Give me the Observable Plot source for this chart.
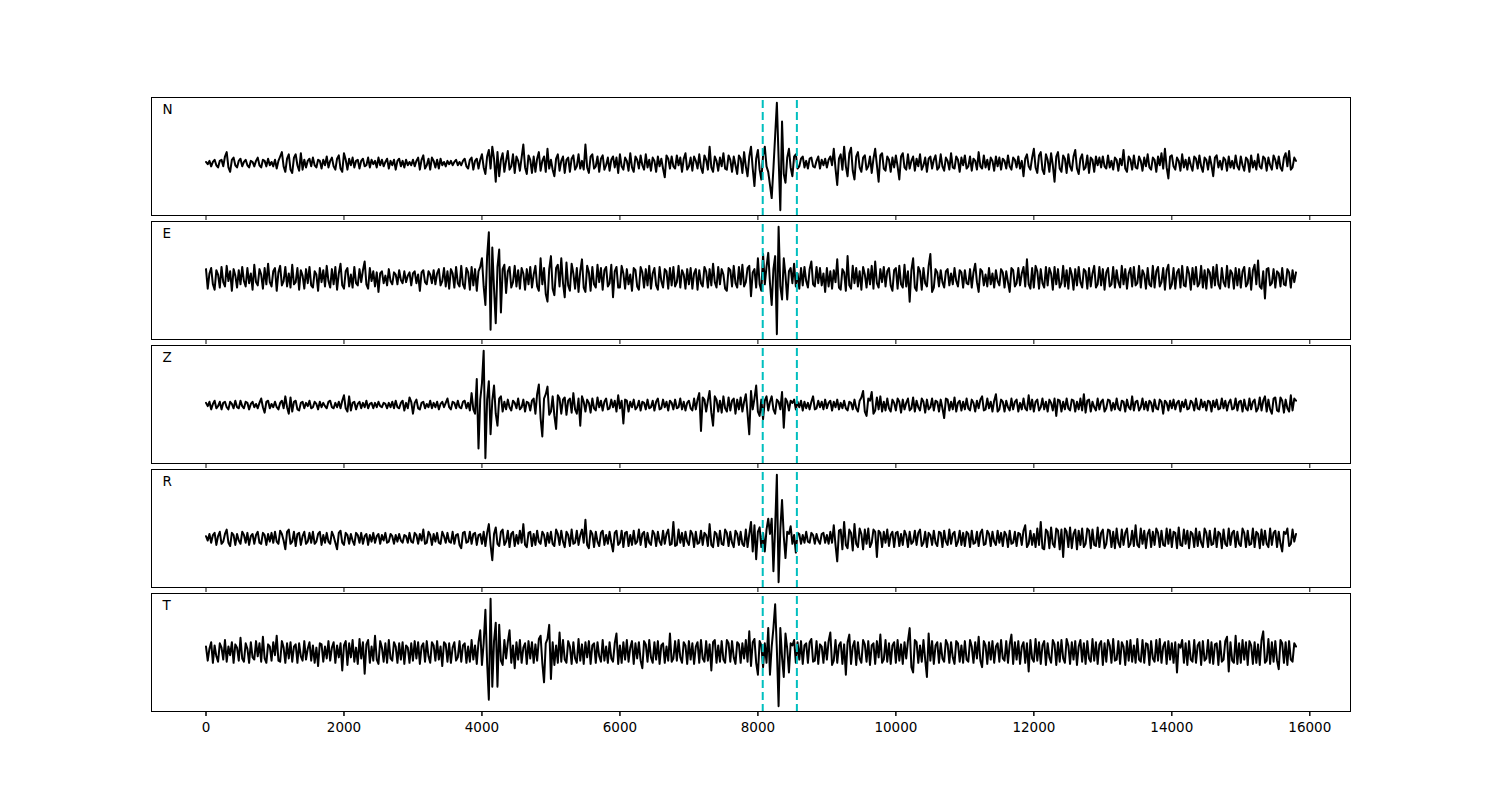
<!DOCTYPE html>
<html><head><meta charset="utf-8">
<script src="https://cdn.jsdelivr.net/npm/d3@7"></script>
<script src="https://cdn.jsdelivr.net/npm/@observablehq/plot@0.6"></script>
<style>html,body{margin:0;padding:0;background:#fff}#chart svg{display:block}</style>
</head><body><div id="chart"></div>
<script>
// Components (panel labels), sample spacing, pick times, x tick values
const components = ["N", "E", "Z", "R", "T"];
const sampleStep = 25;
const picks = [8070, 8565];
const xTicks = [0, 2000, 4000, 6000, 8000, 10000, 12000, 14000, 16000];

// Traces: amplitude, one value every 25 samples (40 values per 1000)
const N = [
1,-1,2,-3,1,3,-2,-4,2,3, -3,6,10,-4,-8,3,5,-2,-4,2, 4,-3,1,3,-2,-4,2,1,-3,2, 5,-2,-4,3,2,-3,4,-2,1,-3,
3,-5,2,6,10,-3,-8,4,8,-6, -9,5,8,-2,-7,9,-6,3,-4,2, 4,-3,5,-2,-4,3,2,-5,3,-2, 6,-4,2,5,-3,-6,4,7,-5,-8,
9,3,-6,4,-2,5,-4,2,3,-5, 2,4,-3,-2,5,-4,3,-1,2,-4, 5,-2,3,-3,1,4,-5,2,-2,3, -6,2,4,-3,2,-4,3,-2,1,-2,
3,-3,2,5,-6,3,7,-5,-2,4, -6,5,2,-4,3,-5,4,-2,1,-3, 2,-1,2,-2,1,3,-2,1,-2,2, 4,-3,-5,3,5,-6,2,4,-5,3,
8,-4,-10,6,12,-5,15,4,-17,10, -12,3,9,-8,2,11,-6,-3,8,-9, 6,2,-7,5,17,-4,-10,7,3,-9, 6,-8,4,10,-7,2,6,-8,13,-5,
3,-6,-12,4,8,-7,2,6,-9,3, 5,-8,4,7,-6,-3,8,-5,2,-6, 17,-4,-9,6,8,-5,-3,6,-8,4, 7,-6,-2,5,-7,3,6,-4,5,-9,
8,-3,-6,5,2,-7,9,-4,-8,6, 3,-5,7,-2,-6,8,-4,3,-7,5, 2,-8,6,-3,4,-5,-13,7,4,-5, 6,-3,-5,7,-2,5,-8,4,9,-6,
-3,5,-7,6,2,-5,8,-4,-9,7, 3,-6,15,-4,-8,6,2,-7,5,-3, 9,-5,-6,7,3,-8,6,-2,-10,7, 4,-9,10,-3,-12,6,15,-5,-21,4,
12,-6,-15,7,15,-3,-8,-20,-32,-5, 25,55,5,-43,38,-10,-18,5,13,-4, -12,6,8,-5,-3,4,6,-4,2,-5, 4,5,-3,-4,2,6,-5,3,-2,4,
-4,3,6,-2,13,-5,-20,4,8,-6, 15,-3,-12,9,14,-7,-15,6,10,-4, -8,5,7,-6,-3,6,-9,4,13,-2, -17,7,9,-5,-7,6,3,-8,5,-4,
7,-3,-15,6,9,-4,-6,8,-5,2, 6,-7,4,-3,8,-6,-2,5,-8,4, 6,-5,3,7,-6,-4,8,-3,-7,5, 2,-6,9,-4,-5,6,3,-8,5,-2,
7,-5,-3,6,-7,4,2,-6,10,-3, -5,7,-4,3,-6,5,2,-7,6,-3, 5,-6,4,2,-5,7,-3,-6,5,3, -4,6,-5,2,-12,4,8,-3,-6,5,
13,-4,-9,7,10,-6,-10,8,3,-8, 9,-2,-17,6,10,-5,-8,7,4,-9, 8,-3,-7,6,12,-5,-10,4,8,-6, -4,7,-9,5,3,-8,6,-2,5,-4,
6,-3,-5,7,-4,2,-6,5,3,-7, 4,-2,12,-5,-8,6,3,-6,7,-4, -5,6,2,-7,5,-3,8,-4,-6,5, 3,-8,6,-2,9,-5,13,-4,-14,6,
7,-3,-6,5,2,-7,8,-4,3,-6, 5,-2,-7,6,4,-5,7,-3,-8,5, 3,-6,6,-2,-12,5,7,-4,2,-6, 5,3,-7,6,-4,2,-5,7,-3,-6,
6,-2,-7,5,3,-8,7,-4,2,-6, 8,-3,-5,6,4,-7,5,-2,-6,7, 3,-5,6,-4,-7,5,9,-3,11,-6, -4,5,2
];
const E = [
8,-10,4,9,-6,-11,7,3,-9,10, -4,-8,11,-3,6,-12,8,2,-9,7, -6,10,-3,-8,9,-5,4,-11,12,-4, -7,8,3,-10,9,-6,13,-4,-8,6,
9,-12,5,11,-7,-3,10,-8,4,-9, 12,-6,-4,9,-11,7,2,-10,8,-5, 10,-7,-9,6,3,-12,9,-4,7,-8, 11,-3,-9,8,-6,10,-11,4,13,-7,
-10,6,9,-8,3,-9,10,-5,-7,8, -4,7,15,-6,-10,9,-3,6,-8,5, -13,4,6,-5,2,-7,8,-3,-6,5, 3,-6,7,-2,-5,6,-4,2,5,-7,
4,6,-5,3,-12,5,7,-4,-6,6, 3,-5,7,-6,4,8,-7,-3,9,-8, 6,-10,8,4,-9,10,-5,-8,11,-6, -10,9,5,-11,10,-7,8,-12,6,10,
18,-8,-25,20,42,-48,28,-10,-42,10, 26,-32,8,12,-14,6,10,-9,-4,11, -8,7,-10,9,4,-11,8,-6,10,-9, 3,11,-8,-12,18,-6,9,-15,-22,8,
20,-10,-16,9,12,-8,18,-5,-18,14, -7,-12,13,4,-10,9,-13,6,17,-9, -13,11,5,-12,10,-6,-9,12,-4,9, -11,7,10,-8,-5,12,-18,6,10,-9,
-9,11,4,-10,8,-6,3,-12,9,7, -8,-11,10,5,-9,8,-7,11,-10,4, 9,-7,-11,10,-3,-9,8,6,-10,9, -7,10,-8,-4,11,-9,7,3,-10,8,
-6,9,-10,4,8,-11,7,-5,-8,10, 6,-9,8,-7,13,-4,-9,10,-6,8, 3,-10,-12,9,7,-8,11,-5,-9,10, -6,12,-8,-4,9,11,-17,5,8,-9,
18,-6,-12,22,-6,10,23,-5,-25,8, 20,-52,47,-8,-20,18,2,-20,6,9, -5,13,-8,4,-10,9,-7,10,-3,-9, 8,15,-6,-8,10,-5,9,-7,4,-13,
9,-8,6,-10,7,-4,17,-9,-11,8, 5,-12,20,-7,-10,11,-5,9,-8,6, -11,10,3,-9,8,-6,11,-10,15,-5, -9,8,-4,10,-8,6,9,-7,-12,7,
9,-10,11,-6,-9,12,-8,6,-22,7, 18,-9,-12,10,6,-11,9,-5,-8,11, 22,-13,-9,8,5,-8,7,-4,-9,6, 8,-7,4,-6,9,-3,-8,7,5,-9,
7,-5,-6,8,-9,5,13,-4,-13,8, 6,-7,3,-8,9,-6,4,-9,7,-3, -7,8,5,-9,6,-4,-13,9,7,-8, -5,9,-7,4,10,-8,17,-6,-10,9,
-9,11,6,-10,8,-5,-9,10,-7,9, 4,-11,10,-6,8,-9,-5,11,-8,7, -10,9,3,-11,8,-7,10,-4,-9,8, 6,-10,9,-8,4,11,-9,-6,10,-7,
8,-11,5,9,-8,-6,10,-9,7,-4, -9,11,-6,8,-10,4,9,-8,10,-7, -5,11,-9,7,3,-10,9,-6,-8,11, -9,6,10,-8,-4,9,-11,7,12,-10,
-6,9,-10,5,8,-9,11,-7,-8,10, 4,-11,9,-6,10,-8,-5,11,-9,7, -10,8,5,-9,10,-7,12,-6,-10,9, -4,-8,11,-9,7,4,-10,9,-7,8,
-9,6,10,-8,-5,9,-11,7,12,-6, 16,-8,-10,6,-19,8,9,-7,-5,8, -9,6,4,-8,9,-6,-7,8,5,-9, 7,-4,5
];
const Z = [
2,-1,3,-4,1,4,-3,-1,3,-4, 2,3,-2,-4,3,1,-3,4,-2,-3, 4,-1,-3,3,2,-4,1,3,-2,1, -3,2,6,-2,-7,3,4,-3,1,-2,
3,-2,-4,2,4,-3,8,-2,-8,7, -6,3,4,-4,-5,2,3,-3,2,-1, 4,-3,-2,3,1,-4,3,-2,2,-1, -3,3,4,-2,-3,2,-2,3,-3,4,
9,-3,-6,8,-5,2,3,-4,1,3, -3,2,-2,4,-3,1,2,-3,2,-2, 3,-1,-2,2,1,-3,2,-2,3,-3, 4,-2,-3,2,4,-5,2,-3,7,3,
-8,2,5,-3,-4,2,3,-3,1,-2, 4,-3,2,-2,3,-4,1,3,-2,2, 6,-2,-4,3,2,-3,4,-2,-3,3, 4,-3,2,-5,11,-4,-8,24,-40,5,
20,50,-49,5,22,-27,4,18,-8,-19, 6,8,-6,3,-4,5,-2,-5,4,2, -3,6,-4,-2,5,-6,3,2,-5,4, 6,-8,10,19,-12,-29,6,10,17,-9,
-6,8,-10,-22,9,6,-8,5,7,-9, 4,6,-7,11,-4,-8,6,-19,8,3, -6,5,2,-7,6,-3,-5,7,-2,4, -5,3,6,-4,-3,5,-2,4,-6,9,
-3,4,-17,5,4,-6,3,-2,5,-4, -2,4,-5,3,2,-4,5,-3,-2,4, -5,3,6,-4,-3,5,-2,3,-5,4, 2,-4,5,-3,-2,6,-4,3,-5,2,
4,-3,-5,6,-4,5,11,-24,7,5, -6,4,13,-7,-19,8,5,-6,4,-7, 8,-3,-6,7,-5,4,6,-8,5,-4, 7,-6,3,10,-8,-27,13,-4,6,18,
-6,-10,5,-13,4,8,-5,3,8,-4, -8,5,3,-4,12,-21,6,3,-5,4, 2,5,-4,3,-2,4,-5,3,-3,2, -4,3,8,-4,-3,4,-2,3,-4,5,
-3,2,4,-5,3,-2,5,-4,2,-3, 4,-3,-5,3,2,-4,5,-3,-6,4, 7,13,-6,-10,6,4,12,-8,-5,7, -4,8,-6,3,-5,6,-3,-6,5,2,
-5,6,3,-7,5,-4,2,6,-5,-3, 7,-6,4,-2,-5,6,3,-7,5,-4, -2,6,-5,4,3,-6,5,-3,-12,6, 5,-5,3,-4,7,-6,2,4,-5,3,
-4,6,-3,-5,5,2,-6,4,-3,5, 8,-5,-4,6,-3,3,-6,4,10,-6, -4,5,3,-6,4,-2,-5,6,-4,3, 5,-6,2,-4,6,-3,-5,9,-4,5,
-6,3,5,-5,-2,6,-4,3,-6,5, 2,-5,6,-10,5,4,-6,3,-4,6, -3,-5,5,4,-6,3,-4,6,-5,10, -7,4,5,-6,3,-2,-5,6,-4,3,
5,-6,-3,5,4,-5,2,-4,6,-3, -5,4,3,-6,5,-2,-4,8,-5,3, 4,-5,-2,6,-4,3,-5,4,2,-6, 5,-3,-4,5,3,-8,4,2,-5,4,
-3,5,-4,2,4,-6,3,-2,5,-4, -3,4,2,-5,6,-3,-4,5,-2,3, -5,4,3,-6,4,-2,5,-4,-3,6, -3,4,-5,2,5,-4,-3,6,-5,3,
4,-6,5,-3,-5,6,-4,3,5,-6, -3,7,-5,4,8,-6,5,-4,-8,6, 7,-5,-6,7,4,-7,5,-3,-6,9, -5,6,4
];
const R = [
2,-2,4,-4,3,5,-6,2,6,-5, -3,4,8,-4,-7,5,3,-6,4,-2, -5,6,3,-4,5,-6,2,4,-5,3, 6,-4,-5,5,3,-6,4,-3,5,-4,
6,-3,-5,7,4,-2,-10,6,8,-5, -3,6,-7,4,5,-6,2,6,-5,-3, 5,-4,6,-5,-3,4,6,-6,3,-4, 5,-3,-5,6,2,-4,-10,5,7,-4,
-6,5,3,-5,4,-2,-6,5,3,-4, 5,-5,2,4,-6,3,-3,5,-4,2, 4,-5,3,-2,5,-4,-3,4,2,-5, 3,-3,4,-2,-4,3,2,-4,5,-3,
-4,5,3,-5,4,-2,8,-5,-4,6, 3,-6,4,-3,5,-4,-5,6,2,-4, 5,-3,-4,6,-5,3,4,-6,-9,5, 6,-4,-3,6,-5,4,5,-6,3,4,
-5,6,-7,5,13,-6,-20,4,10,-5, -7,6,8,-6,-3,7,-8,4,6,-7, 3,-5,7,-4,13,-6,-8,5,6,-7, 4,-6,7,-3,-5,6,3,-7,5,-4,
6,-5,-7,8,4,-6,7,-3,-8,6, 3,-7,8,-5,-4,7,-6,3,8,-4, 17,-6,-9,7,4,-8,6,-3,-7,5, 7,-6,3,-5,6,-4,-12,5,7,-6,
-4,7,-8,5,6,-7,3,-6,7,-5, -3,8,-6,4,6,-8,5,-4,-6,7, 4,-7,6,-3,-6,7,-5,4,8,-6, -5,15,-7,-6,8,-4,5,-7,6,-3,
-6,7,4,-8,6,-5,-4,7,-6,5, 3,-7,13,-6,-8,6,4,-7,7,-5, -6,8,5,-7,6,-4,-8,7,4,-6, 6,-5,-7,8,-8,4,15,-12,12,-19,
6,10,-8,5,-12,8,18,4,18,-30, 10,58,-40,8,35,2,-18,6,4,11, -5,3,-13,5,4,-5,3,-4,6,-3, -4,5,3,-5,4,-2,-5,4,5,-4,
3,-5,6,-4,12,-6,-21,7,8,-10, 15,-6,-9,8,5,-11,13,-5,-8,9, 4,-10,8,-5,9,-8,-4,8,6,-17, 7,5,-8,6,-4,8,-7,3,6,-8,
5,6,-7,4,-6,7,3,-8,6,-5, -3,7,-6,5,8,-7,-4,6,-8,5, 3,-6,7,-4,-7,6,5,-8,7,-3, -6,8,-5,4,6,-7,-3,7,-6,5,
-7,6,4,-8,7,-5,-4,6,-7,5, 8,-6,-5,7,4,-7,6,-3,-6,7, -4,5,-7,6,3,-8,7,-5,-4,6, -7,5,4,-6,7,12,-8,-5,7,-6,
4,-8,9,-6,15,-9,-10,8,6,-9, 10,-5,-8,9,7,-10,8,-17,9,6, -8,10,-9,4,8,-10,7,-6,9,-8, -5,9,7,-9,8,-6,-7,10,-8,5,
8,-9,-5,8,7,-8,6,-9,9,-4, -8,8,-6,5,9,-8,-5,7,-7,12, -6,-8,9,-5,7,-9,4,8,-8,6, -6,9,5,-8,7,-6,-7,9,-5,8,
-8,6,5,-9,10,-6,-7,8,-5,7, -9,6,4,-8,9,-7,6,-4,-8,9, 5,-8,7,-6,-5,9,-8,6,4,-9, 8,-5,-7,9,-6,5,7,-8,6,-5,
-7,9,5,-8,7,-6,-5,9,-8,6, 4,-9,8,-6,7,-5,-8,9,-6,5, 7,-8,6,-5,-12,6,4,9,-7,-5, 8,-3,4
];
const T = [
5,-8,3,9,-10,6,-4,-9,8,4, -7,11,-9,5,-3,9,-10,7,4,-8, 13,-6,-9,8,3,-10,9,-5,-7,10, -4,8,-9,14,-6,-10,7,5,-8,9,
-3,15,-8,-9,10,4,-10,8,-6,9, -9,5,7,-10,8,-4,-8,10,-7,3, 9,-8,6,-10,4,-13,8,7,-9,5, -6,10,-8,4,9,-10,6,-5,8,-17,
6,10,-12,8,-5,11,-9,4,-11,12, -6,9,-20,7,11,-10,5,-8,15,-7, -11,10,4,-9,8,-10,11,-6,-8,9, 5,-10,8,-7,9,-11,6,4,-10,8,
-8,10,-6,9,-11,5,8,-9,10,-4, -10,9,6,-8,10,-7,5,-13,9,7, -9,8,-10,4,9,-8,-5,10,-9,6, 8,-10,5,-9,11,-7,6,-11,9,20,
-12,8,39,-10,-44,49,-32,10,27,-32, 25,-8,-12,11,-6,9,20,-10,6,-15, 9,-7,11,-10,4,8,-11,10,-6,9, -10,7,-8,12,15,-10,-28,8,12,25,
-25,9,-12,6,-10,18,-9,11,-7,-10, 10,5,-11,9,-6,-10,12,-8,7,-11, 9,-5,10,-11,6,8,-10,9,-4,-9, 11,-8,5,-10,9,-6,-9,8,17,-11,
6,-10,9,-7,11,-9,4,10,-11,8, -6,9,-8,-15,10,7,-9,11,-5,-10, 9,-7,10,-11,6,8,-10,5,-8,17, -9,-6,10,-8,11,-5,-10,9,6,-11,
10,-7,8,-11,5,9,-10,11,-6,-9, 10,-8,7,-17,9,11,-10,6,-9,10, -7,-10,11,8,-9,10,-5,-11,9,7, -10,8,-6,11,-9,19,-13,9,12,-10,
-21,10,6,-14,8,-10,22,-21,5,22, 44,2,-50,22,-5,-23,17,3,-19,8, 6,11,-10,9,-7,10,-11,6,8,-10, 9,12,-9,-8,10,-11,7,5,-10,9,
-7,10,18,-12,-8,11,-10,6,9,-11, 7,-21,9,16,-11,5,10,-12,9,-6, -10,11,7,-9,10,-12,6,8,-11,10, -5,16,-10,-7,11,-9,8,-11,6,9,
-10,11,-8,7,-11,9,-6,10,22,-14, -19,11,9,-10,6,-9,11,-7,-23,17, -8,10,-11,6,9,-10,8,-6,-9,11, 7,-10,9,-5,-11,10,8,-9,6,-10,
10,-7,-9,11,5,-10,9,-6,14,-8, -14,10,6,-11,9,-7,10,-10,5,8, -9,11,-6,-8,10,-10,7,16,-11,9, -7,10,-11,5,9,-10,8,-18,11,-6,
-9,12,-8,9,-11,6,10,-12,8,-5, -10,11,7,-12,9,-9,11,-6,-10,12, 6,-11,9,-7,10,-12,5,11,-9,8, -11,10,-6,-9,12,-8,9,-11,7,10,
-12,8,-9,11,6,-10,12,-8,-7,10, -11,9,5,-12,10,-8,11,-9,6,-10, 12,-7,-9,11,-10,8,7,-12,10,-6, -9,11,-8,12,-10,5,9,-11,10,-7,
8,-10,9,-19,7,4,11,-10,8,-12, 10,-7,-9,11,-10,6,9,-12,10,-8, -6,11,-10,9,-11,7,8,-12,10,-9, -7,10,14,-18,9,-8,-10,15,-11,8,
-10,11,-7,9,-12,10,6,-11,9,-10, 7,-12,11,19,-10,-8,12,-11,9,-9, 10,-8,-16,11,8,-10,9,-12,10,-7, -9,8,5
];

const traces = [N, E, Z, R, T];

// Each panel autoscales to its own trace (5% margins, like the original)
const rows = components.flatMap((c, k) => {
  const vals = traces[k];
  const lo = d3.min(vals), hi = d3.max(vals);
  const pad = 0.05 * (hi - lo);
  return vals.map((v, i) => ({comp: c, t: i * sampleStep, y: (v - lo + pad) / (hi - lo + 2 * pad)}));
});

const xMax = (d3.max(traces, a => a.length) - 1) * sampleStep;
const xPad = 0.05 * xMax;

const chart = Plot.plot({
  width: 1500,
  height: 800,
  marginLeft: 151,
  marginRight: 150,
  marginTop: 96,
  marginBottom: 88,
  style: {fontFamily: "DejaVu Sans", fontSize: "13.5px", color: "black", background: "white", overflow: "visible"},
  x: {domain: [-xPad, xMax + xPad], axis: null},
  y: {domain: [0, 1], axis: null},
  fy: {domain: components, paddingInner: 0.05, paddingOuter: 0, axis: null},
  marks: [
    Plot.line(rows, {x: "t", y: "y", fy: "comp", stroke: "black", strokeWidth: 2}),
    Plot.ruleX(picks, {stroke: "#00bfbf", strokeWidth: 2, strokeDasharray: "8,4", strokeDashoffset: 9}),
    Plot.frame({stroke: "black", strokeWidth: 1}),
    Plot.text(components, {fy: d => d, text: d => d, frameAnchor: "top-left", dx: 11, dy: 7, lineAnchor: "top", textAnchor: "start", fill: "black", fontSize: 13.5}),
    Plot.axisX({ticks: xTicks, anchor: "bottom", facetAnchor: null, tickSize: 5, tickFormat: () => "", label: null, stroke: "black"}),
    Plot.axisX({ticks: xTicks, anchor: "bottom", facetAnchor: "bottom", tickSize: 5, tickPadding: 6, label: null, stroke: "black", fill: "black", tickFormat: d => String(d)})
  ]
});
document.getElementById("chart").append(chart);
</script>
</body></html>
